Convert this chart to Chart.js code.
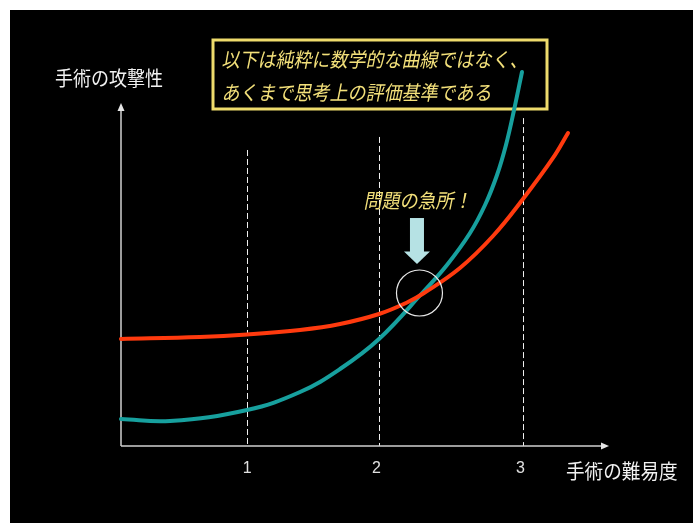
<!DOCTYPE html>
<html><head><meta charset="utf-8">
<script src="https://cdn.jsdelivr.net/npm/chart.js@4"></script>
<style>html,body{margin:0;padding:0;background:#fff;overflow:hidden}
#wrap{position:absolute;left:0;top:0;width:693px;height:523px}</style>
</head><body><div id="wrap"><canvas id="c" width="693" height="523"></canvas></div>
<script>
// ---- data ----
const tealX = [0, 0.389, 1.0, 1.42, 1.737, 2.046, 2.403, 2.585, 2.768, 2.887, 2.982, 3.053, 3.117, 3.18];
const tealY = [7.87, 7.29, 10.5, 15.74, 22.45, 31.2, 45.19, 52.77, 62.1, 70.26, 79.01, 87.76, 97.96, 109.04];
const redX  = [0, 0.626, 1.0, 1.42, 1.737, 2.046, 2.268, 2.403, 2.688, 2.95, 3.188, 3.426, 3.545];
const redY  = [31.2, 31.78, 32.51, 33.82, 35.57, 38.48, 41.84, 44.61, 51.9, 61.22, 72.01, 83.97, 91.25];
const tickValues = [1, 2.046, 3.188];
const tickLabels = ['1', '2', '3'];
const gridTopValues = [86.3, 90.1, 95.6];
const highlight = {x: 2.367, y: 44.6};
const xTitle = '手術の難易度';
const yTitle = '手術の攻撃性';
const noteLines = ['以下は純粋に数学的な曲線ではなく、', 'あくまで思考上の評価基準である'];
const calloutText = '問題の急所！';

const JP = '"Noto Sans CJK JP", "Noto Sans CJK SC", sans-serif';
function txt(ctx, s, x, y, size, color, sx, skew, align) {
  ctx.save();
  ctx.font = size + 'px ' + JP;
  ctx.fillStyle = color;
  ctx.textBaseline = 'middle';
  ctx.textAlign = align || 'left';
  ctx.setTransform(sx, 0, skew, 1, x, y);
  ctx.fillText(s, 0, 0);
  ctx.restore();
}

const deco = {
  id: 'deco',
  beforeDraw(chart) {
    const ctx = chart.ctx;
    ctx.save();
    ctx.fillStyle = '#000';
    ctx.fillRect(10, 10, chart.width - 10, chart.height - 10);
    ctx.restore();
  },
  beforeDatasetsDraw(chart) {
    const ctx = chart.ctx, xs = chart.scales.x, ys = chart.scales.y;
    const x0 = xs.getPixelForValue(0), y0 = ys.getPixelForValue(0);
    const xEnd = xs.right, yTop = y0 - 343;
    ctx.save();
    // dashed grid lines
    ctx.strokeStyle = '#f0f0f0';
    ctx.lineWidth = 1;
    ctx.setLineDash([6, 3]);
    tickValues.forEach((v, i) => {
      const px = Math.round(xs.getPixelForValue(v)) + 0.5;
      ctx.beginPath();
      ctx.moveTo(px, ys.getPixelForValue(gridTopValues[i]));
      ctx.lineTo(px, y0);
      ctx.stroke();
    });
    ctx.setLineDash([]);
    // axes
    ctx.strokeStyle = '#cfcfcf';
    ctx.fillStyle = '#e6e6e6';
    ctx.lineWidth = 1.5;
    ctx.beginPath();
    ctx.moveTo(x0, y0); ctx.lineTo(x0, yTop + 6);
    ctx.moveTo(x0, y0); ctx.lineTo(xEnd - 6, y0);
    ctx.stroke();
    ctx.beginPath();
    ctx.moveTo(x0, yTop); ctx.lineTo(x0 - 3.5, yTop + 8); ctx.lineTo(x0 + 3.5, yTop + 8); ctx.closePath();
    ctx.fill();
    ctx.beginPath();
    ctx.moveTo(xEnd, y0); ctx.lineTo(xEnd - 8, y0 - 3.5); ctx.lineTo(xEnd - 8, y0 + 3.5); ctx.closePath();
    ctx.fill();
    // tick labels
    ctx.font = '16px "Liberation Sans", Arial, sans-serif';
    ctx.fillStyle = '#e0e0e0';
    ctx.textAlign = 'center';
    ctx.textBaseline = 'middle';
    tickValues.forEach((v, i) => {
      ctx.fillText(tickLabels[i], xs.getPixelForValue(v) - (i ? 2.5 : 0), y0 + 23);
    });
    ctx.restore();
    // axis titles
    txt(ctx, yTitle, 55, 78, 20, '#f2f2f2', 0.9, 0);
    txt(ctx, xTitle, 566, y0 + 25, 20, '#f2f2f2', 0.93, 0);
    // note box
    ctx.save();
    ctx.strokeStyle = '#eedb6c';
    ctx.lineWidth = 3;
    ctx.strokeRect(213, 40, 334, 69);
    ctx.restore();
    txt(ctx, noteLines[0], 223, 59, 20, '#f3e07a', 0.9, -0.2);
    txt(ctx, noteLines[1], 223, 92.5, 20, '#f3e07a', 0.9, -0.2);
  },
  afterDatasetsDraw(chart) {
    const ctx = chart.ctx, xs = chart.scales.x, ys = chart.scales.y;
    const cx = xs.getPixelForValue(highlight.x), cy = ys.getPixelForValue(highlight.y);
    ctx.save();
    ctx.strokeStyle = '#e8e8e8';
    ctx.lineWidth = 1.2;
    ctx.beginPath();
    ctx.arc(cx, cy, 23, 0, Math.PI * 2);
    ctx.stroke();
    // down arrow
    const ax = cx - 2.5, tip = cy - 29;
    ctx.fillStyle = '#b6e2e4';
    ctx.fillRect(ax - 7, tip - 46, 14, 34);
    ctx.beginPath();
    ctx.moveTo(ax - 13, tip - 12.5);
    ctx.lineTo(ax + 13, tip - 12.5);
    ctx.lineTo(ax, tip);
    ctx.closePath();
    ctx.fill();
    ctx.restore();
    txt(ctx, calloutText, 365, 200, 20, '#f3e07a', 0.9, -0.2);
  }
};

new Chart(document.getElementById('c'), {
  type: 'line',
  data: {
    datasets: [
      { data: redX.map((x, i) => ({x, y: redY[i]})), borderColor: '#ff3a0e', borderWidth: 4, clip: false },
      { data: tealX.map((x, i) => ({x, y: tealY[i]})), borderColor: '#17a09e', borderWidth: 4, clip: false }
    ]
  },
  options: {
    responsive: false,
    animation: false,
    devicePixelRatio: 1,
    layout: { padding: { left: 121, right: 84, top: 34.4, bottom: 77 } },
    elements: { point: { radius: 0 }, line: { tension: 0.4, borderCapStyle: 'round' } },
    plugins: { legend: { display: false }, tooltip: { enabled: false } },
    scales: {
      x: { type: 'linear', min: 0, max: 3.87, display: false },
      y: { type: 'linear', min: 0, max: 120, display: false }
    }
  },
  plugins: [deco]
});
</script></body></html>
